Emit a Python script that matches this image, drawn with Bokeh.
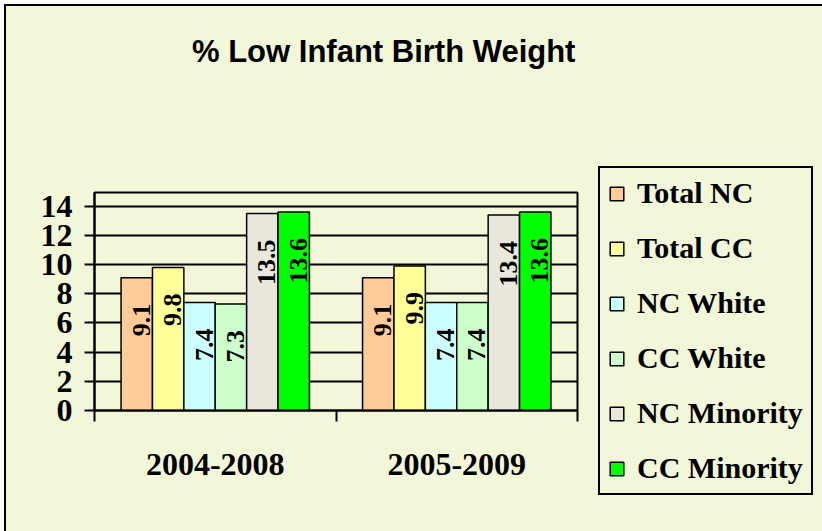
import math
from bokeh.plotting import figure
from bokeh.layouts import column
from bokeh.models import (ColumnDataSource, Range1d, FixedTicker, Legend, LegendItem, Div)
from bokeh.transform import dodge
from bokeh.core.properties import value
from bokeh.embed import file_html
from bokeh.resources import INLINE

# ---- data ----
chart_title = "% Low Infant Birth Weight"
periods = ["2004-2008", "2005-2009"]
series = ["Total NC", "Total CC", "NC White", "CC White", "NC Minority", "CC Minority"]
total_nc = [9.1, 9.1]
total_cc = [9.8, 9.9]
nc_white = [7.4, 7.4]
cc_white = [7.3, 7.4]
nc_minority = [13.5, 13.4]
cc_minority = [13.6, 13.6]
y_ticks = [0, 2, 4, 6, 8, 10, 12, 14]

series_values = [total_nc, total_cc, nc_white, cc_white, nc_minority, cc_minority]
colors = ["#FFCC99", "#FFFF99", "#CCFFFF", "#CCFFCC", "#EAE7DC", "#00FF00"]

BG = "#F2F7DA"
SERIF = "Liberation Serif"
W = 816

title_div = Div(
    text=('<div style="padding-left:181px;padding-top:23px;font-family:\'Liberation Sans\';'
          'font-weight:bold;font-size:31px;line-height:36px;color:black;white-space:nowrap;">'
          + chart_title + '</div>'),
    width=W, height=70, styles={"background-color": BG})

p = figure(frame_width=483, frame_height=218, output_backend="svg", toolbar_location=None,
           x_range=Range1d(0, len(periods)), y_range=Range1d(0, 14.94),
           min_border_left=88, min_border_right=W - 88 - 483, min_border_top=106,
           min_border_bottom=125, title=None)
p.background_fill_color = BG
p.border_fill_color = BG
p.outline_line_color = "black"
p.outline_line_width = 2

pos = [i + 0.5 for i in range(len(periods))]
bw = 0.13
items = []
for j, (name, vals, col) in enumerate(zip(series, series_values, colors)):
    src = ColumnDataSource(dict(pos=pos, v=vals, lbl=[f"{x:.1f}" for x in vals]))
    off = (j - 2.5) * bw
    r = p.vbar(x=dodge("pos", off), top="v", bottom=0, width=bw, source=src,
               fill_color=col, line_color="black", line_width=1.5)
    p.text(x=dodge("pos", off), y="v", text="lbl", source=src, angle=math.pi / 2,
           text_align="right", text_baseline="middle", x_offset=4.5, y_offset=26,
           text_font=value(SERIF), text_font_style="bold", text_font_size="26px",
           text_color="black")
    items.append(LegendItem(label=name, renderers=[r]))

# grid
p.xgrid.grid_line_color = None
p.ygrid.grid_line_color = "black"
p.ygrid.grid_line_width = 2
p.ygrid.ticker = FixedTicker(ticks=y_ticks)

# y axis
ya = p.yaxis[0]
ya.ticker = FixedTicker(ticks=y_ticks)
ya.axis_line_color = "black"
ya.axis_line_width = 2
ya.major_tick_out = 10
ya.major_tick_in = 0
ya.major_tick_line_width = 2
ya.minor_tick_line_color = None
ya.major_label_standoff = 12
ya.major_label_text_font = SERIF
ya.major_label_text_font_style = "bold"
ya.major_label_text_font_size = "32px"
ya.major_label_text_color = "black"

# x axis
xa = p.xaxis[0]
xa.ticker = FixedTicker(ticks=pos, minor_ticks=list(range(len(periods) + 1)))
xa.major_label_overrides = {pv: lab for pv, lab in zip(pos, periods)}
xa.axis_line_color = "black"
xa.axis_line_width = 2
xa.major_tick_out = 0
xa.major_tick_in = 0
xa.major_tick_line_color = None
xa.minor_tick_out = 11
xa.minor_tick_in = 0
xa.minor_tick_line_color = "black"
xa.minor_tick_line_width = 2
xa.major_label_standoff = 32
xa.major_label_text_font = SERIF
xa.major_label_text_font_style = "bold"
xa.major_label_text_font_size = "32px"
xa.major_label_text_color = "black"

legend = Legend(items=items, location=(21, -85),
                border_line_color="black", border_line_width=2, border_line_alpha=1,
                background_fill_alpha=0, padding=8, spacing=21, margin=0,
                label_standoff=12, glyph_width=17, glyph_height=17,
                label_height=30, label_text_font=SERIF,
                label_text_font_style="bold", label_text_font_size="30px",
                label_text_color="black")
p.add_layout(legend, "right")

layout = column(title_div, p, spacing=0,
                styles={"border-left": "2px solid black", "border-top": "2px solid black",
                        "margin-left": "4px", "margin-top": "4px",
                        "background-color": BG})

open("out.html", "w").write(file_html(layout, INLINE))
